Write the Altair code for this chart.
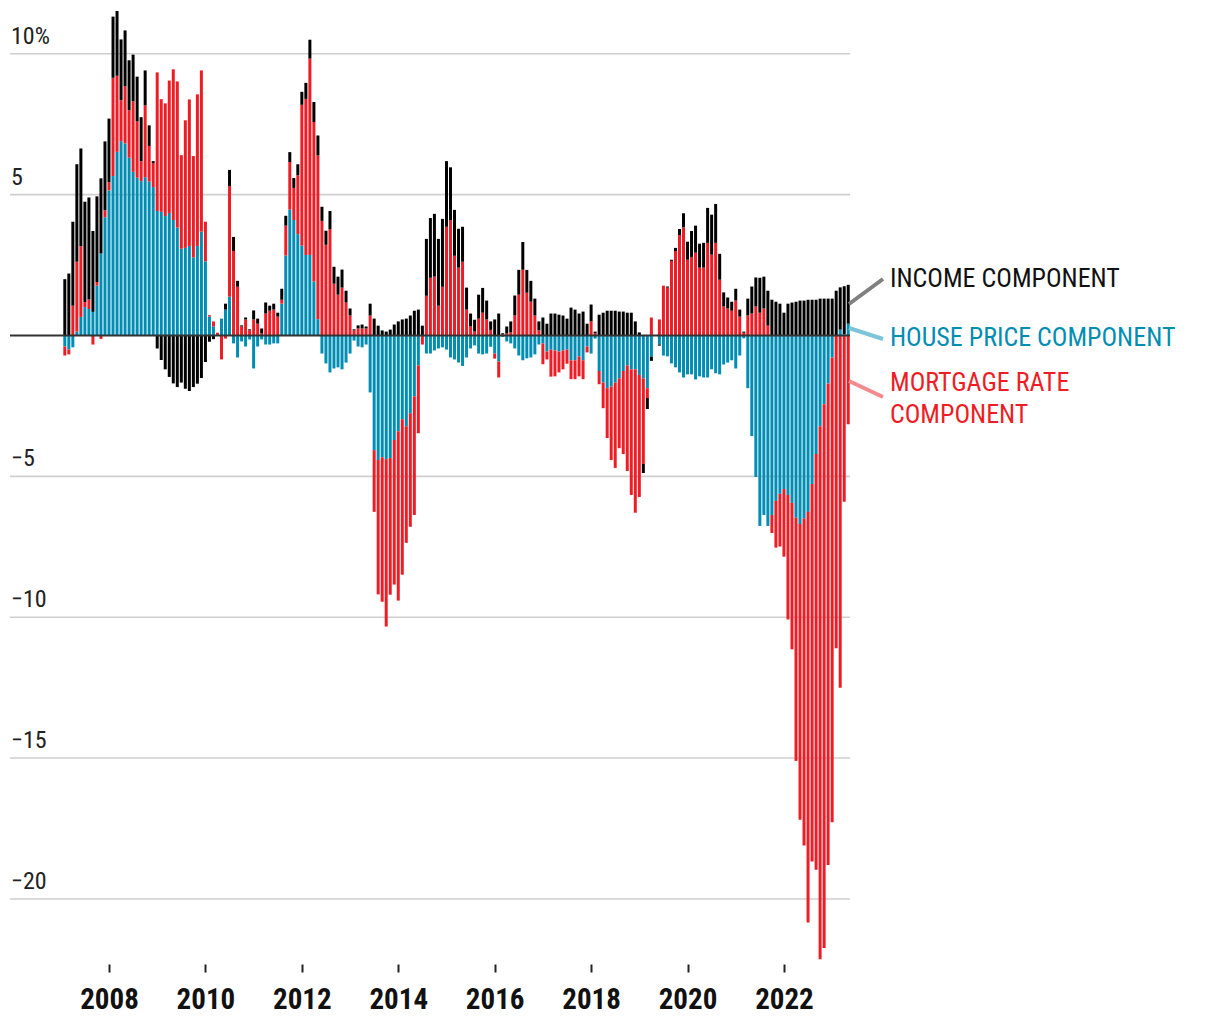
import altair as alt
import pandas as pd

# Monthly contributions (percentage points), Feb 2007 .. May 2023
income = [2.0, 2.2, 2.98, 3.46, 3.47, 3.56, 3.62, 2.87, 3.04, 2.67, 2.44, 2.26,
          2.17, 2.3, 2.16, 1.98, 1.77, 1.66, 1.59, 1.56, 1.24, 0.73, 0.07, -0.46,
          -0.87, -1.2, -1.47, -1.7, -1.83, -1.67, -1.89, -1.97, -1.83, -1.71, -1.51, -0.94,
          -0.22, -0.13, 0.0, 0.0, 0.21, 0.57, 0.5, 0.21, 0.04, 0.07, 0.04, 0.32,
          0.18, 0.18, 0.39, 0.18, 0.21, 0.14, 0.39, 0.35, 0.35, 0.35, 0.39, 0.46,
          0.57, 0.67, 0.71, 0.71, 0.5, 0.5, 0.64, 0.6, 0.64, 0.64, 0.42, 0.25,
          0.04, 0.11, 0.14, 0.07, 0.42, 0.6, 0.35, 0.18, 0.14, 0.21, 0.39, 0.5,
          0.57, 0.6, 0.71, 0.88, 0.92, 0.35, 2.02, 2.12, 2.23, 2.37, 2.41, 2.33,
          1.87, 1.63, 1.38, 1.24, 0.78, 0.46, 0.42, 0.85, 0.88, 0.67, 0.3, 0.57,
          0.78, 0.04, 0.25, 0.39, 0.71, 0.88, 0.99, 0.81, 0.74, 0.6, 0.32, 0.64,
          0.42, 0.78, 0.78, 0.74, 0.71, 0.6, 0.99, 0.92, 0.78, 0.85, 0.42, 0.6,
          0.07, 0.74, 0.81, 0.88, 0.88, 0.88, 0.85, 0.85, 0.81, 0.81, 0.5, 0.11,
          -0.32, -0.39, -0.15, 0.0, -0.04, 0.0, 0.04, 0.04, 0.11, 0.21, 0.5, 0.64,
          0.92, 0.96, 0.85, 0.88, 1.24, 1.42, 1.38, 0.92, 0.5, 0.39, 0.32, 0.42,
          0.25, 0.04, 0.6, 0.96, 1.03, 1.24, 1.13, 1.24, 1.27, 1.2, 1.13, 0.81,
          1.13, 1.17, 1.2, 1.24, 1.24, 1.27, 1.27, 1.27, 1.31, 1.31, 1.31, 1.31,
          1.59, 1.5, 1.7, 1.38]

house = [-0.39, -0.5, -0.42, 0.14, 0.66, 1.01, 0.94, 0.84, 1.77, 2.91, 4.2, 5.15,
         5.66, 6.52, 6.9, 6.82, 6.31, 5.81, 5.6, 5.48, 5.62, 5.46, 5.27, 4.42,
         4.39, 4.24, 4.35, 4.1, 3.83, 3.08, 3.11, 3.18, 2.77, 3.18, 3.69, 2.63,
         0.67, 0.32, 0.0, 0.6, 0.92, 1.38, -0.28, -0.78, -0.21, -0.39, -0.14, -1.17,
         -0.39, -0.14, -0.32, -0.32, -0.28, -0.28, 1.13, 2.84, 4.47, 4.1, 3.6, 3.19,
         2.86, 2.86, 1.92, 0.58, -0.64, -0.99, -1.31, -1.17, -1.13, -1.2, -0.96, -0.64,
         -0.18, -0.39, -0.42, -0.32, -2.02, -4.07, -4.42, -4.32, -4.39, -4.35, -3.71, -3.4,
         -2.97, -3.22, -2.76, -2.16, -1.06, 0.0, -0.64, -0.64, -0.53, -0.46, -0.42, -0.5,
         -0.78, -0.85, -0.96, -1.08, -0.78, -0.46, -0.35, -0.64, -0.67, -0.64, -0.4, -0.64,
         -0.92, -0.05, -0.21, -0.28, -0.46, -0.71, -0.88, -0.81, -0.78, -0.67, -0.32, -0.28,
         -0.57, -0.5, -0.53, -0.57, -0.53, -0.5, -0.88, -0.88, -0.74, -0.88, -0.39, -0.64,
         -0.11, -1.26, -1.67, -1.87, -1.81, -1.67, -1.52, -1.26, -1.06, -1.2, -1.2, -1.4,
         -1.52, -1.87, -0.75, 0.0, -0.32, -0.71, -0.74, -0.99, -1.13, -1.31, -1.49, -1.38,
         -1.38, -1.56, -1.45, -1.49, -1.49, -1.2, -1.34, -1.38, -1.03, -0.96, -0.88, -1.17,
         -0.71, -0.1, -1.87, -3.57, -5.02, -6.76, -6.37, -6.76, -6.37, -5.87, -5.62, -5.45,
         -5.66, -5.94, -6.47, -6.69, -6.5, -6.26, -5.27, -4.21, -3.22, -2.44, -1.7, -0.78,
         0.0, 0.21, 0.05, 0.42]

mortgage = [-0.32, -0.17, 1.06, 2.48, 2.51, 0.18, 0.34, -0.32, 0.13, -0.12, 0.25, 0.29,
            3.49, 2.7, 1.45, 2.03, 1.69, 2.5, 2.0, 0.71, 2.55, 1.27, 0.85, 4.92,
            4.0, 4.0, 4.7, 5.35, 5.19, 3.32, 4.53, 5.2, 3.6, 5.38, 5.72, 1.41,
            0.05, 0.18, 0.1, -0.85, -0.11, 3.93, 3.0, 1.73, 0.32, 0.57, 0.18, 0.57,
            0.42, 0.07, 0.78, 0.88, 0.92, 0.67, 0.14, 1.06, 1.69, 1.14, 2.09, 5.0,
            5.54, 6.97, 5.66, 5.81, 4.07, 3.22, 3.78, 1.84, 1.45, 1.7, 1.17, 0.71,
            0.18, 0.25, 0.25, 0.25, 0.71, -2.19, -4.77, -5.13, -5.94, -4.85, -5.13, -6.01,
            -5.52, -4.14, -4.03, -4.21, -2.41, -0.32, 1.41, 2.05, 2.09, 1.06, 1.73, 3.86,
            4.1, 2.83, 2.41, 2.62, 0.92, 0.32, 0.14, 0.6, 0.81, 0.57, 0.2, -0.18,
            -0.57, 0.04, 0.07, 0.11, 0.71, 1.45, 2.33, 1.52, 1.2, 0.71, 0.18, -0.74,
            -0.28, -0.96, -0.92, -0.74, -0.67, -0.5, -0.67, -0.67, -0.71, -0.67, -0.21, 0.5,
            0.07, -0.47, -0.91, -1.77, -2.61, -3.03, -2.48, -2.95, -3.75, -4.46, -5.09, -4.33,
            -3.04, -0.35, 0.64, 0.0, 0.57, 1.77, 1.7, 2.65, 3.0, 3.57, 3.84, 2.69,
            2.79, 2.94, 2.41, 2.41, 3.29, 2.87, 3.29, 1.98, 1.03, 0.96, 0.88, 1.24,
            0.67, 0.1, 0.71, 0.78, 1.03, 0.81, 0.96, 0.35, -0.64, -1.66, -1.87, -2.4,
            -4.42, -5.2, -8.63, -10.5, -11.6, -14.58, -13.4, -14.75, -18.92, -19.3, -17.1, -16.5,
            -11.1, -12.5, -5.9, -3.15]

n = len(income)
months = [f"{2007 + (1 + i) // 12}-{(1 + i) % 12 + 1:02d}" for i in range(n)]

components = ["House price", "Mortgage rate", "Income"]
colors = ["#008db4", "#ee1d25", "#000000"]

rows = []
for i, m in enumerate(months):
    y, mo = int(m[:4]), int(m[5:])
    t = y + (mo - 1) / 12
    for k, (name, vals) in enumerate(zip(components, [house, mortgage, income])):
        rows.append({"month": m, "t": t, "component": name, "value": vals[i], "ord": k})
df = pd.DataFrame(rows)

grid_vals = [10, 5, -5, -10, -15, -20]
grid_labels = ["10%", "5", "\u22125", "\u221210", "\u221215", "\u221220"]
grid_df = pd.DataFrame({"v": grid_vals, "lab": grid_labels})

tick_years = [2008, 2010, 2012, 2014, 2016, 2018, 2020, 2022]

FONT = "Liberation Sans Narrow, Roboto Condensed, Roboto, sans-serif"

x_scale = alt.Scale(domain=[2005.9465, 2023.370], nice=False, zero=False, padding=0)
y_scale = alt.Scale(domain=[-22.31, 11.626], nice=False, zero=False, padding=0)

grid = alt.Chart(grid_df).mark_rule(color="#cfcfcf", strokeWidth=1.6).encode(
    y=alt.Y("v:Q", scale=y_scale, axis=None)
)

ylab = alt.Chart(grid_df).mark_text(
    align="left", baseline="alphabetic", dy=-10, fontSize=24, font=FONT, color="#222222"
).encode(
    x=alt.value(1),
    y=alt.Y("v:Q", scale=y_scale, axis=None),
    text="lab:N",
)

bars = alt.Chart(df).mark_bar(size=3).encode(
    x=alt.X(
        "t:Q",
        scale=x_scale,
        axis=alt.Axis(
            values=tick_years, format="d", title=None, grid=False, domain=False,
            ticks=True, tickSize=8, tickWidth=2, tickColor="#222222",
            labelFont=FONT, labelFontSize=29, labelFontWeight="bold",
            labelColor="#111111", labelPadding=13,
        ),
    ),
    y=alt.Y("value:Q", stack="zero", scale=y_scale, axis=None),
    color=alt.Color("component:N", scale=alt.Scale(domain=components, range=colors), legend=None),
    order=alt.Order("ord:Q"),
)

zero = alt.Chart(pd.DataFrame({"v": [0]})).mark_rule(color="#333333", strokeWidth=2).encode(
    y=alt.Y("v:Q", scale=y_scale, axis=None)
)

def connector(x1, y1, x2, y2, color):
    return alt.Chart(pd.DataFrame({"a": [0]})).mark_rule(
        color=color, strokeWidth=4
    ).encode(x=alt.value(x1), y=alt.value(y1), x2=alt.value(x2), y2=alt.value(y2))

def label(text, x, y, color):
    return alt.Chart(pd.DataFrame({"a": [0]})).mark_text(
        text=text, align="left", baseline="alphabetic", fontSize=26, font=FONT, color=color
    ).encode(x=alt.value(x), y=alt.value(y))

annotations = [
    connector(839, 296, 873, 271, "#808080"),
    connector(839, 320, 873, 331, "#7cc4d8"),
    connector(839, 373, 873, 389, "#f28a8e"),
    label("INCOME COMPONENT", 880, 279, "#111111"),
    label("HOUSE PRICE COMPONENT", 880, 338, "#008db4"),
    label("MORTGAGE RATE", 880, 383, "#ee1d25"),
    label("COMPONENT", 880, 415, "#ee1d25"),
]

chart = alt.layer(grid, bars, zero, ylab, *annotations).properties(
    width=840,
    height=956,
    padding={"left": 2, "top": 0, "right": 340, "bottom": 52},
    autosize=alt.AutoSizeParams(type="none"),
).configure_view(stroke=None)

chart.save("out.html", embed_options={"renderer": "svg", "actions": False})
